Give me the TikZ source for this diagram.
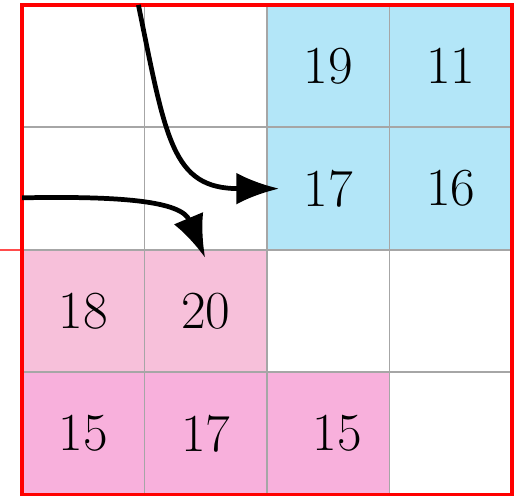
\documentclass[tikz,border=0pt]{standalone}
\usetikzlibrary{arrows.meta}
\definecolor{tileblue}{HTML}{B3E6F8}
\definecolor{tilerose}{HTML}{F7C0DA}
\definecolor{tilepink}{HTML}{F8B0DC}
\tikzset{
  gridline/.style={draw=gray!70, line width=0.9pt},
  frame/.style={draw=red, line width=1.5pt},
  num/.style={font=\Huge, inner sep=0pt},
  flow/.style={-{Latex[length=7mm, width=5.2mm]}, line width=2.2pt},
}

\begin{document}
\begin{tikzpicture}

  \useasboundingbox (-0.36,0.08) rectangle (8.18,-8.05);

  % Coloured tiles
  \foreach \c/\r/\col in {2/0/tileblue, 3/0/tileblue, 2/1/tileblue, 3/1/tileblue,
                          0/2/tilerose, 1/2/tilerose,
                          0/3/tilepink, 1/3/tilepink, 2/3/tilepink} {
    \fill[\col] (2*\c,-2*\r) rectangle (2*\c+2,-2*\r-2);
  }

  % Grid and frame
  \draw[gridline] (0,-8) grid[step=2] (8,0);
  \draw[red!70, line width=1pt] (-0.36,-4) -- (0,-4);
  \draw[frame] (0,0) rectangle (8,-8);

  % Values
  \node[num] (n-0-2) at (5,-1) {19};
  \node[num] (n-0-3) at (7,-1) {11};
  \node[num] (n-1-2) at (5,-3) {17};
  \node[num] (n-1-3) at (7,-3) {16};
  \node[num] (n-2-0) at (1,-5) {18};
  \node[num] (n-2-1) at (3,-5) {20};
  \node[num] (n-3-0) at (1,-7) {15};
  \node[num] (n-3-1) at (3,-7) {17};
  \node[num] (n-3-2) at (5.15,-7) {15};

  % Incoming paths
  \coordinate (topin) at (1.9,0);
  \coordinate (leftin) at (0,-3.15);
  \coordinate (topend) at (4.2,-3);
  \coordinate (leftend) at (2.99,-4.13);
  \draw[flow] (topin) .. controls (2.35,-2.2) and (2.45,-3.0) .. (topend);
  \draw[flow] (leftin) .. controls (1.6,-3.12) and (2.6,-3.2) .. (leftend);

\end{tikzpicture}
\end{document}
